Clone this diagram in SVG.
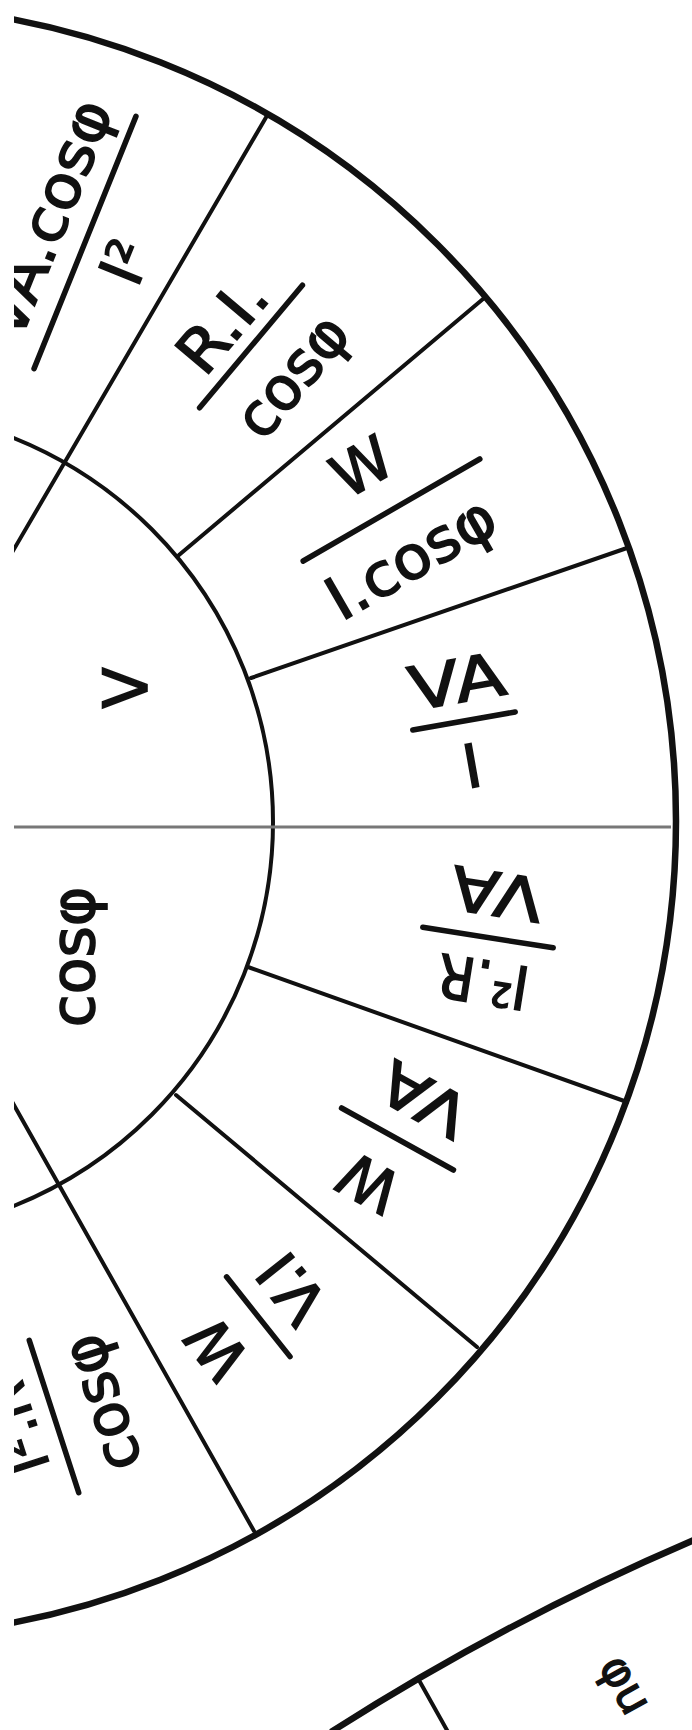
<svg xmlns="http://www.w3.org/2000/svg" width="692" height="1730" viewBox="0 0 692 1730">
<defs>
<style>
.ring{fill:none;stroke:#111}
.outer{stroke-width:6.5}
.inner{stroke-width:4}
.spoke{stroke:#111;stroke-width:4;stroke-linecap:round}
.axis{stroke:#777;stroke-width:3}
.bar{stroke:#111;stroke-width:5.5;stroke-linecap:round}
text{font-family:"DejaVu Sans",sans-serif;font-size:60px;fill:#111;stroke:#111;stroke-width:1.6;text-anchor:middle}
</style>
<clipPath id="clip"><rect x="14" y="0" width="678" height="1730"/></clipPath>
</defs>
<rect width="692" height="1730" fill="#fff"/>
<g clip-path="url(#clip)">
<g id="connectors">
<circle class="ring outer" cx="-140" cy="821" r="816"/>
<circle class="ring inner" cx="-141" cy="822" r="414"/>
<line class="axis" x1="0" y1="827" x2="671" y2="827"/>
<line class="spoke" x1="251" y1="678" x2="627" y2="548"/>
<line class="spoke" x1="179" y1="555" x2="483" y2="299"/>
<line class="spoke" x1="10" y1="556" x2="268" y2="114"/>
<line class="spoke" x1="248" y1="967" x2="627" y2="1102"/>
<line class="spoke" x1="176" y1="1095" x2="477" y2="1347"/>
<line class="spoke" x1="10" y1="1098" x2="254" y2="1531"/>
<path class="ring outer" d="M331,1732 A 2500 2500 0 0 1 694,1540"/>
<line class="spoke" x1="420" y1="1682" x2="448" y2="1732"/>
</g>
<g id="inner-V"><text transform="translate(125,688) rotate(-90)" y="22">V</text></g>
<g id="inner-cos"><text transform="translate(77,957) rotate(-90)" y="17">cosφ</text></g>
<g id="seg-m10" transform="translate(464,721) rotate(-10)">
<text y="-19" textLength="97" lengthAdjust="spacingAndGlyphs">VA</text>
<line class="bar" x1="-52" y1="0" x2="52" y2="0"/>
<text y="67">I</text>
</g>
<g id="seg-m30" transform="translate(391.5,510) rotate(-30)">
<text x="-4" y="-31">W</text>
<line class="bar" x1="-102" y1="0" x2="102" y2="0"/>
<text x="-7" y="72" textLength="185" lengthAdjust="spacingAndGlyphs">I.cosφ</text>
</g>
<g id="seg-m50" transform="translate(251,346.5) rotate(-50)">
<text x="-2" y="-15" textLength="105" lengthAdjust="spacingAndGlyphs">R.I.</text>
<line class="bar" x1="-80" y1="0" x2="80" y2="0"/>
<text x="4" y="71" textLength="140" lengthAdjust="spacingAndGlyphs">cosφ</text>
</g>
<g id="seg-m70" transform="translate(85,242.5) rotate(-68)">
<text x="8" y="-23" textLength="252" lengthAdjust="spacingAndGlyphs">VA.cosφ</text>
<line class="bar" x1="-136" y1="0" x2="136" y2="0"/>
<text x="-3" y="66">I²</text>
</g>
<g id="seg-p10" transform="translate(488,937.5) rotate(189)">
<text x="-2" y="-23" textLength="92" lengthAdjust="spacingAndGlyphs">I².R</text>
<line class="bar" x1="-66" y1="0" x2="66" y2="0"/>
<text x="-2" y="66" textLength="92" lengthAdjust="spacingAndGlyphs">VA</text>
</g>
<g id="seg-p30" transform="translate(397.5,1139) rotate(209)">
<text x="4" y="-31">W</text>
<line class="bar" x1="-64" y1="0" x2="64" y2="0"/>
<text x="-4" y="69" textLength="92" lengthAdjust="spacingAndGlyphs">VA</text>
</g>
<g id="seg-p50" transform="translate(258.3,1316.7) rotate(231.5)">
<text x="1" y="-31">W</text>
<line class="bar" x1="-51" y1="0" x2="51" y2="0"/>
<text x="1" y="65">V.I</text>
</g>
<g id="seg-p70" transform="translate(54,1416.5) rotate(252)">
<text x="0" y="-19" textLength="92" lengthAdjust="spacingAndGlyphs">I².R</text>
<line class="bar" x1="-80" y1="0" x2="80" y2="0"/>
<text x="-2" y="70" textLength="140" lengthAdjust="spacingAndGlyphs">cosφ</text>
</g>
<g id="wheel2-text"><text transform="translate(598,1666) rotate(61)" style="text-anchor:start;font-size:46px;stroke-width:1.3">φu</text></g>
</g>
</svg>
